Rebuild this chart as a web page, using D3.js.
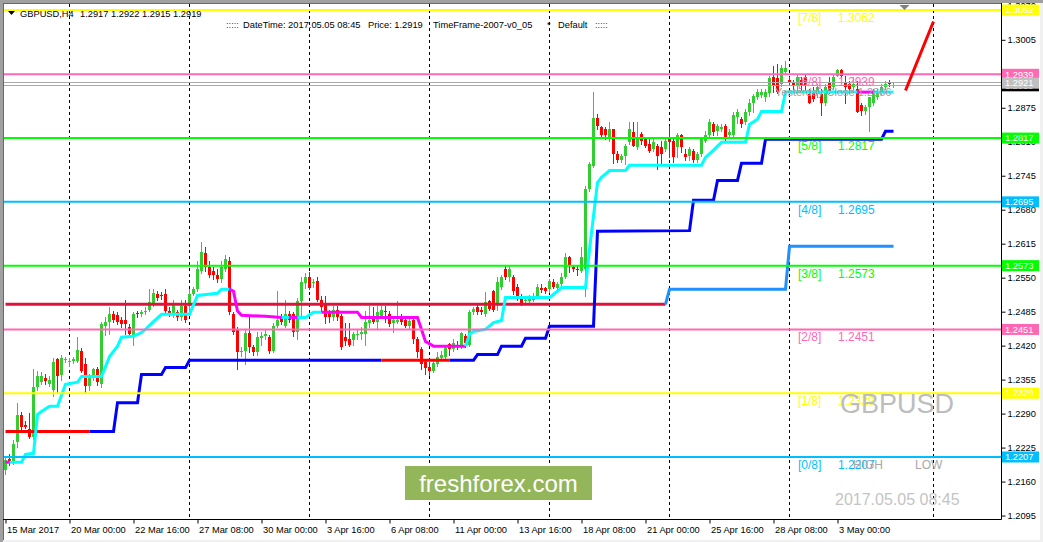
<!DOCTYPE html>
<html>
<head>
<meta charset="utf-8">
<script src="https://cdn.jsdelivr.net/npm/d3@7/dist/d3.min.js"></script>
<style>
html,body{margin:0;padding:0;background:#fff;overflow:hidden;}
svg{display:block;}
text{font-family:"Liberation Sans",Arial,Helvetica,sans-serif;}
</style>
</head>
<body>
<svg id="chart" width="1043" height="542"></svg>
<script>
// ---------------- DATA ----------------
const symbol = "GBPUSD";
const timeframe = "H4";

const opens = [
1.2183,1.2204,1.2198,1.2235,1.2288,1.2269,1.2260,1.2246,1.2340,1.2350,
1.2359,1.2346,1.2336,1.2394,1.2363,1.2392,1.2390,1.2390,1.2390,1.2409,
1.2384,1.2342,1.2359,1.2375,1.2346,1.2457,1.2466,1.2480,1.2478,1.2470,
1.2470,1.2455,1.2440,1.2482,1.2480,1.2484,1.2489,1.2499,1.2518,1.2516,
1.2518,1.2486,1.2480,1.2484,1.2474,1.2495,1.2495,1.2518,1.2528,1.2562,
1.2598,1.2570,1.2562,1.2556,1.2547,1.2566,1.2581,1.2480,1.2451,1.2409,
1.2409,1.2445,1.2417,1.2407,1.2434,1.2438,1.2436,1.2409,1.2457,1.2474,
1.2457,1.2480,1.2480,1.2447,1.2505,1.2539,1.2551,1.2539,1.2543,1.2508,
1.2497,1.2482,1.2474,1.2489,1.2476,1.2436,1.2432,1.2430,1.2442,1.2442,
1.2442,1.2464,1.2476,1.2466,1.2476,1.2487,1.2480,1.2463,1.2466,1.2476,
1.2470,1.2457,1.2470,1.2432,1.2413,1.2388,1.2380,1.2371,1.2384,1.2397,
1.2399,1.2424,1.2413,1.2422,1.2419,1.2438,1.2422,1.2484,1.2493,1.2489,
1.2480,1.2505,1.2524,1.2499,1.2533,1.2566,1.2551,1.2551,1.2533,1.2514,
1.2505,1.2505,1.2508,1.2514,1.2531,1.2530,1.2528,1.2541,1.2530,1.2537,
1.2552,1.2589,1.2570,1.2566,1.2562,1.2566,1.2719,1.2763,1.2855,1.2838,
1.2834,1.2815,1.2834,1.2786,1.2776,1.2782,1.2809,1.2828,1.2799,1.2824,
1.2815,1.2805,1.2796,1.2801,1.2799,1.2796,1.2818,1.2811,1.2799,1.2822,
1.2786,1.2782,1.2792,1.2776,1.2786,1.2811,1.2822,1.2843,1.2830,1.2834,
1.2840,1.2822,1.2822,1.2858,1.2853,1.2847,1.2866,1.2885,1.2895,1.2899,
1.2895,1.2904,1.2933,1.2931,1.2920,1.2943,1.2929,1.2925,1.2916,1.2929,
1.2933,1.2901,1.2906,1.2901,1.2901,1.2885,1.2925,1.2914,1.2935,1.2947,
1.2924,1.2920,1.2914,1.2910,1.2881,1.2868,1.2876,1.2885,1.2895,1.2906,
1.2914,1.2925,1.2917];

const highs = [
1.2208,1.2212,1.2239,1.2311,1.2294,1.2275,1.2292,1.2375,1.2371,1.2369,
1.2365,1.2361,1.2397,1.2397,1.2403,1.2399,1.2397,1.2399,1.2436,1.2415,
1.2397,1.2365,1.2378,1.2380,1.2466,1.2474,1.2493,1.2486,1.2484,1.2474,
1.2508,1.2461,1.2484,1.2487,1.2489,1.2493,1.2528,1.2528,1.2524,1.2522,
1.2528,1.2493,1.2508,1.2489,1.2508,1.2508,1.2528,1.2533,1.2581,1.2619,
1.2608,1.2581,1.2570,1.2566,1.2581,1.2593,1.2589,1.2484,1.2455,1.2417,
1.2451,1.2474,1.2422,1.2447,1.2447,1.2451,1.2440,1.2464,1.2524,1.2480,
1.2508,1.2486,1.2484,1.2512,1.2551,1.2558,1.2560,1.2547,1.2551,1.2514,
1.2514,1.2489,1.2495,1.2495,1.2480,1.2464,1.2464,1.2447,1.2451,1.2455,
1.2486,1.2495,1.2493,1.2495,1.2495,1.2495,1.2486,1.2474,1.2505,1.2480,
1.2474,1.2474,1.2476,1.2436,1.2417,1.2392,1.2388,1.2394,1.2407,1.2409,
1.2422,1.2426,1.2432,1.2428,1.2447,1.2442,1.2489,1.2493,1.2497,1.2493,
1.2522,1.2508,1.2526,1.2552,1.2556,1.2572,1.2572,1.2556,1.2537,1.2518,
1.2512,1.2516,1.2520,1.2537,1.2537,1.2533,1.2547,1.2547,1.2541,1.2558,
1.2598,1.2591,1.2574,1.2572,1.2608,1.2725,1.2772,1.2906,1.2863,1.2841,
1.2838,1.2847,1.2834,1.2792,1.2786,1.2805,1.2847,1.2847,1.2847,1.2828,
1.2818,1.2815,1.2815,1.2805,1.2811,1.2818,1.2841,1.2815,1.2826,1.2824,
1.2796,1.2799,1.2796,1.2790,1.2818,1.2830,1.2853,1.2847,1.2843,1.2843,
1.2843,1.2834,1.2866,1.2872,1.2857,1.2872,1.2891,1.2901,1.2910,1.2910,
1.2910,1.2935,1.2954,1.2958,1.2956,1.2964,1.2933,1.2929,1.2937,1.2933,
1.2937,1.2910,1.2914,1.2920,1.2910,1.2920,1.2933,1.2937,1.2950,1.2949,
1.2935,1.2926,1.2933,1.2926,1.2885,1.2880,1.2895,1.2910,1.2910,1.2920,
1.2926,1.2929,1.2922];

const lows = [
1.2174,1.2191,1.2193,1.2227,1.2260,1.2262,1.2243,1.2241,1.2336,1.2346,
1.2346,1.2342,1.2323,1.2332,1.2355,1.2388,1.2382,1.2386,1.2388,1.2369,
1.2332,1.2336,1.2355,1.2344,1.2340,1.2440,1.2442,1.2466,1.2461,1.2455,
1.2442,1.2436,1.2422,1.2474,1.2476,1.2480,1.2486,1.2495,1.2508,1.2510,
1.2484,1.2476,1.2474,1.2470,1.2470,1.2466,1.2489,1.2516,1.2524,1.2558,
1.2562,1.2552,1.2547,1.2541,1.2541,1.2562,1.2480,1.2443,1.2375,1.2401,
1.2384,1.2407,1.2403,1.2403,1.2422,1.2432,1.2405,1.2407,1.2455,1.2461,
1.2455,1.2466,1.2438,1.2432,1.2474,1.2531,1.2528,1.2533,1.2505,1.2486,
1.2464,1.2466,1.2470,1.2470,1.2413,1.2422,1.2419,1.2422,1.2432,1.2432,
1.2422,1.2455,1.2464,1.2451,1.2474,1.2466,1.2457,1.2447,1.2464,1.2461,
1.2455,1.2451,1.2426,1.2399,1.2375,1.2365,1.2363,1.2369,1.2382,1.2394,
1.2397,1.2403,1.2409,1.2413,1.2415,1.2417,1.2419,1.2480,1.2480,1.2480,
1.2476,1.2489,1.2486,1.2489,1.2528,1.2547,1.2543,1.2518,1.2508,1.2497,
1.2499,1.2501,1.2505,1.2512,1.2522,1.2520,1.2522,1.2531,1.2528,1.2531,
1.2549,1.2560,1.2562,1.2556,1.2560,1.2514,1.2715,1.2761,1.2834,1.2818,
1.2816,1.2811,1.2770,1.2772,1.2772,1.2767,1.2805,1.2801,1.2796,1.2805,
1.2799,1.2790,1.2792,1.2757,1.2770,1.2792,1.2780,1.2772,1.2780,1.2790,
1.2776,1.2776,1.2772,1.2772,1.2782,1.2809,1.2818,1.2822,1.2822,1.2830,
1.2811,1.2818,1.2818,1.2845,1.2839,1.2843,1.2862,1.2866,1.2891,1.2895,
1.2887,1.2897,1.2906,1.2904,1.2916,1.2939,1.2920,1.2910,1.2908,1.2908,
1.2908,1.2885,1.2887,1.2895,1.2862,1.2881,1.2904,1.2910,1.2935,1.2933,
1.2885,1.2904,1.2906,1.2866,1.2862,1.2864,1.2830,1.2881,1.2891,1.2901,
1.2910,1.2916,1.2915];

const closes = [
1.2202,1.2198,1.2231,1.2288,1.2265,1.2265,1.2246,1.2340,1.2361,1.2361,
1.2352,1.2355,1.2388,1.2361,1.2396,1.2394,1.2391,1.2394,1.2411,1.2371,
1.2342,1.2359,1.2375,1.2350,1.2461,1.2466,1.2480,1.2470,1.2466,1.2461,
1.2461,1.2442,1.2480,1.2480,1.2484,1.2487,1.2503,1.2520,1.2512,1.2515,
1.2486,1.2480,1.2499,1.2474,1.2495,1.2470,1.2518,1.2528,1.2566,1.2600,
1.2570,1.2556,1.2556,1.2547,1.2570,1.2585,1.2484,1.2447,1.2407,1.2410,
1.2445,1.2417,1.2407,1.2436,1.2438,1.2442,1.2409,1.2457,1.2470,1.2466,
1.2480,1.2470,1.2447,1.2505,1.2541,1.2552,1.2531,1.2541,1.2508,1.2493,
1.2474,1.2474,1.2489,1.2474,1.2417,1.2428,1.2422,1.2442,1.2443,1.2447,
1.2466,1.2470,1.2466,1.2484,1.2489,1.2486,1.2461,1.2470,1.2470,1.2466,
1.2457,1.2468,1.2432,1.2407,1.2384,1.2378,1.2371,1.2386,1.2399,1.2403,
1.2415,1.2413,1.2426,1.2419,1.2445,1.2426,1.2484,1.2491,1.2484,1.2484,
1.2503,1.2491,1.2489,1.2541,1.2552,1.2551,1.2566,1.2524,1.2512,1.2501,
1.2507,1.2510,1.2514,1.2533,1.2526,1.2524,1.2543,1.2533,1.2537,1.2552,
1.2589,1.2572,1.2566,1.2564,1.2589,1.2719,1.2767,1.2855,1.2840,1.2822,
1.2822,1.2834,1.2786,1.2776,1.2782,1.2801,1.2834,1.2801,1.2820,1.2811,
1.2801,1.2792,1.2809,1.2782,1.2786,1.2811,1.2809,1.2780,1.2822,1.2799,
1.2780,1.2796,1.2776,1.2786,1.2815,1.2822,1.2847,1.2828,1.2840,1.2838,
1.2815,1.2828,1.2862,1.2866,1.2843,1.2866,1.2885,1.2897,1.2906,1.2906,
1.2906,1.2931,1.2916,1.2906,1.2952,1.2952,1.2925,1.2916,1.2933,1.2916,
1.2916,1.2885,1.2891,1.2914,1.2885,1.2914,1.2906,1.2933,1.2947,1.2935,
1.2914,1.2910,1.2920,1.2866,1.2868,1.2876,1.2895,1.2906,1.2906,1.2914,
1.2920,1.2920,1.2919];

// time axis (bar index -> label)
const timeTickBars = [0,16,32,48,64,80,96,112,128,144,160,176,192,208];
const timeTickLabels = ["15 Mar 2017","20 Mar 00:00","22 Mar 16:00","27 Mar 08:00","30 Mar 00:00",
  "3 Apr 16:00","6 Apr 08:00","11 Apr 00:00","13 Apr 16:00","18 Apr 08:00","21 Apr 00:00",
  "25 Apr 16:00","28 Apr 08:00","3 May 00:00"];
const weekSeparatorBars = [16,46,76,106,136,166,196,232];
const lastBarIndexDomain = [0,232];

// price axis
const priceTicks = [1.2095,1.2160,1.2225,1.2290,1.2355,1.2420,1.2485,1.2550,1.2615,1.2680,
  1.2745,1.2810,1.2875,1.2940,1.3005,1.3070];

// Murrey math levels
const levelNames = ["[0/8]","[1/8]","[2/8]","[3/8]","[4/8]","[5/8]","[6/8]","[7/8]"];
const levelValues = [1.2207,1.2329,1.2451,1.2573,1.2695,1.2817,1.2939,1.3062];

// trend line A (cyan = up, magenta = down)
const lineAIdx = [0,1,4,5,7,8,9,11,13,15,18,19,24,26,28,29,32,34,35,37,39,46,48,53,54,56,57,58,59,65,
  69,71,73,75,77,79,88,89,103,104,105,107,115,116,117,120,122,124,125,136,138,139,145,146,148,149,151,
  155,156,174,175,177,179,185,186,188,189,194,195,213,217,222];
const lineAVal = [1.2197,1.2197,1.2197,1.2212,1.2214,1.2288,1.2294,1.2304,1.2304,1.2346,
  1.2350,1.2361,1.2361,1.2399,1.2419,1.2436,1.2438,1.2445,1.2451,1.2466,
  1.2480,1.2480,1.2516,1.2520,1.2528,1.2528,1.2524,1.2486,1.2478,1.2476,
  1.2474,1.2474,1.2474,1.2474,1.2484,1.2484,1.2484,1.2474,1.2474,1.2451,
  1.2428,1.2419,1.2419,1.2442,1.2447,1.2451,1.2464,1.2468,1.2512,1.2512,
  1.2524,1.2531,1.2531,1.2604,1.2732,1.2742,1.2755,1.2755,1.2765,1.2765,
  1.2780,1.2794,1.2809,1.2809,1.2843,1.2853,1.2868,1.2868,1.2905,1.2905,
  1.2905,1.2905];
const lineAUp = [0,0,1,
  1,1,1,1,1,1,1,1,1,1,1,1,1,1,1,1,1,1,1,1,1,1,1,
  0,0,0,0,0,
  1,0,1,1,1,
  0,0,0,0,0,0,0,
  1,1,1,1,1,1,1,1,1,1,1,1,1,1,1,1,1,1,1,1,1,1,1,1,1,1,1,
  0,1];

// stepped line B (blue = up, red = down)
const lineBIdx = [0,21,27,28,33,34,39,40,45,46,94,111,117,118,123,124,129,130,135,136,147,148,171,172,
  177,178,183,184,189,190,219,220,222];
const lineBVal = [1.2256,1.2256,1.2256,1.2311,1.2311,1.2365,1.2365,1.2378,1.2378,1.2392,
  1.2392,1.2392,1.2392,1.2403,1.2403,1.2419,1.2419,1.2434,1.2434,1.2457,
  1.2457,1.2639,1.2640,1.2698,1.2698,1.2736,1.2736,1.2769,1.2769,1.2815,
  1.2815,1.2830,1.2830];
const lineBUp = [0,0,1,1,1,1,1,1,1,1,1,0,1,1,1,1,1,1,1,1,1,1,1,1,1,1,1,1,1,1,1,1,1];

// level line C (crimson, then dodger blue)
const lineCIdx = [0,165,166,195,196,222];
const lineCVal = [1.2499,1.2499,1.2528,1.2528,1.2610,1.2610];
const lineCUp = [0,0,1,1,1,1];

// projection
const projIdx = [225,232];
const projVal = [1.2908,1.3040];

const grayLevel = 1.2922;
const grayLabel = "1.2921";
const yesterdayClose = 1.2886;
const headerDateTime = "2017.05.05 08:45";

// ---------------- STYLE ----------------
const levelColors = ["#00BFFF","#FFFF00","#FF69B4","#00FF00","#00BFFF","#00FF00","#FF69B4","#FFFF00"];
const bull = "#32CD32", bear = "#FF0000";
const FONT = '"Liberation Sans", Arial, Helvetica, sans-serif';

// ---------------- DRAW ----------------
const W = 1043, H = 542;
const L = 4, R = 1001, T = 4, B = 519;
const svg = d3.select("#chart");
const x = d3.scaleLinear().domain(lastBarIndexDomain).range([5.5, 933.5]);
const y = d3.scaleLinear().domain([levelValues[0], levelValues[7]]).range([457, 10]);
const crisp = v => Math.floor(v) + 0.5;

svg.append("rect").attr("width", W).attr("height", H).attr("fill", "#f0f0f0");
svg.append("rect").attr("x", 3).attr("y", 3).attr("width", 1037).attr("height", 537).attr("fill", "#fff");
svg.append("rect").attr("x", 0).attr("y", 0).attr("width", W).attr("height", 3).attr("fill", "#a0a0a0");
svg.append("rect").attr("x", 0).attr("y", 0).attr("width", 3).attr("height", H).attr("fill", "#a0a0a0");
svg.append("line").attr("x1", 3).attr("x2", R + 1).attr("y1", 3.5).attr("y2", 3.5).attr("stroke", "#696969");
svg.append("line").attr("x1", 3.5).attr("x2", 3.5).attr("y1", 3).attr("y2", 540).attr("stroke", "#696969");

svg.append("defs").append("clipPath").attr("id", "pc")
  .append("rect").attr("x", L).attr("y", T).attr("width", R - L).attr("height", B - T);
const g = svg.append("g").attr("clip-path", "url(#pc)");

// week separators
g.append("g").selectAll("line").data(weekSeparatorBars).join("line")
  .attr("x1", d => x(d)).attr("x2", d => x(d)).attr("y1", T).attr("y2", B)
  .attr("stroke", "#000").attr("stroke-width", 1).attr("stroke-dasharray", "3,3");

// candles
const bars = d3.range(closes.length).map(i => ({i, o: opens[i], h: highs[i], l: lows[i], c: closes[i]}));
const cg = g.append("g");
cg.selectAll("line").data(bars).join("line")
  .attr("x1", d => x(d.i)).attr("x2", d => x(d.i))
  .attr("y1", d => Math.round(y(d.h))).attr("y2", d => Math.round(y(d.l)) + 1)
  .attr("stroke", d => d.c >= d.o ? bull : bear).attr("stroke-width", 1);
cg.selectAll("rect").data(bars).join("rect")
  .attr("x", d => x(d.i) - 1.5).attr("width", 3)
  .attr("y", d => Math.round(y(Math.max(d.o, d.c))))
  .attr("height", d => Math.max(1, Math.round(y(Math.min(d.o, d.c))) - Math.round(y(Math.max(d.o, d.c)))))
  .attr("fill", d => d.c >= d.o ? bull : bear);

// trend lines
const lineGen = d3.line().x(d => x(d[0])).y(d => y(d[1]));
function drawTrend(idx, val, flag, cols, w) {
  const runs = []; let cur = null;
  for (let k = 1; k < idx.length; k++) {
    if (!cur || cur.f !== flag[k]) { cur = {f: flag[k], pts: [[idx[k - 1], val[k - 1]]]}; runs.push(cur); }
    cur.pts.push([idx[k], val[k]]);
  }
  g.append("g").selectAll("path").data(runs).join("path")
    .attr("d", d => lineGen(d.pts)).attr("fill", "none")
    .attr("stroke", d => cols[d.f]).attr("stroke-width", w).attr("stroke-linejoin", "miter");
}
drawTrend(lineCIdx, lineCVal, lineCUp, ["#DC143C", "#1E90FF"], 3);
drawTrend(lineBIdx, lineBVal, lineBUp, ["#FF0000", "#0000FF"], 3);
drawTrend(lineAIdx, lineAVal, lineAUp, ["#FF00FF", "#00FFFF"], 3);

// murrey level lines
g.append("g").selectAll("line").data(levelValues).join("line")
  .attr("x1", L).attr("x2", R).attr("y1", d => y(d)).attr("y2", d => y(d))
  .attr("stroke", (d, k) => levelColors[k]).attr("stroke-width", 2);

// gray / bid lines (1px, pixel aligned)
g.append("g").selectAll("line").data([grayLevel, closes[closes.length - 1]]).join("line")
  .attr("x1", L).attr("x2", R)
  .attr("y1", (d, k) => k === 0 ? crisp(y(d)) - 1 : crisp(y(d)) + 1)
  .attr("y2", (d, k) => k === 0 ? crisp(y(d)) - 1 : crisp(y(d)) + 1)
  .attr("stroke", "#A9A9A9").attr("stroke-width", 1);

// projection line
g.append("path").attr("d", lineGen(projIdx.map((d, k) => [d, projVal[k]])))
  .attr("fill", "none").attr("stroke", "#FF0000").attr("stroke-width", 3);

// level labels
const lt = g.append("g").attr("font-family", FONT).attr("font-size", 12);
lt.selectAll("text.n").data(levelValues).join("text").attr("class", "n")
  .attr("x", 798).attr("y", d => y(d) + 12).attr("fill", (d, k) => levelColors[k])
  .text((d, k) => levelNames[k]);
lt.selectAll("text.v").data(levelValues).join("text").attr("class", "v")
  .attr("x", 838).attr("y", d => y(d) + 12).attr("fill", (d, k) => levelColors[k])
  .text(d => d.toFixed(4));

// overlay texts
g.append("text").attr("x", 775).attr("y", 95.5).attr("font-family", FONT).attr("font-size", 11)
  .attr("fill", "#A0A0A0").text("Yesterday Close " + yesterdayClose.toFixed(4));
g.append("text").attr("x", 840).attr("y", 413).attr("font-family", FONT).attr("font-size", 27)
  .attr("fill", "#BDBDBD").text(symbol);
g.append("text").attr("x", 853).attr("y", 468.5).attr("font-family", FONT).attr("font-size", 12)
  .attr("fill", "#A8A8A8").text("HIGH");
g.append("text").attr("x", 915).attr("y", 468.5).attr("font-family", FONT).attr("font-size", 12)
  .attr("fill", "#A8A8A8").text("LOW");
g.append("text").attr("x", 835).attr("y", 505).attr("font-family", FONT).attr("font-size", 16)
  .attr("fill", "#C4C4C4").text(headerDateTime);

// logo
g.append("rect").attr("x", 405).attr("y", 466).attr("width", 187).attr("height", 34).attr("fill", "#93B65A");
g.append("text").attr("x", 498.5).attr("y", 491.5).attr("text-anchor", "middle").attr("font-family", FONT)
  .attr("font-size", 24).attr("fill", "#fff").text("freshforex.com");

// shift marker
svg.append("path").attr("d", `M${x(223.5)},5 L${x(226)},5 L${x(224.75)},10 Z`).attr("fill", "#808080");

// header
svg.append("path").attr("d", "M8,11 L15,11 L11.5,15 Z").attr("fill", "#000");
const hd = svg.append("g").attr("font-family", FONT).attr("font-size", 9.3).attr("fill", "#000");
const last = closes.length - 1;
hd.append("text").attr("x", 20).attr("y", 16.5).text(symbol + "," + timeframe);
hd.append("text").attr("x", 80).attr("y", 16.5)
  .text([opens[last], highs[last], lows[last], closes[last]].map(v => v.toFixed(4)).join(" "));
hd.append("text").attr("x", 226).attr("y", 28).attr("fill", "#8B008B").text(":::::");
hd.append("text").attr("x", 243).attr("y", 28).text("DateTime: " + headerDateTime);
hd.append("text").attr("x", 368).attr("y", 28).text("Price: " + closes[last].toFixed(4));
hd.append("text").attr("x", 433).attr("y", 28).text("TimeFrame-2007-v0_05");
hd.append("text").attr("x", 547).attr("y", 28).text("*");
hd.append("text").attr("x", 558).attr("y", 28).text("Default");
hd.append("text").attr("x", 595).attr("y", 28).attr("fill", "#8B008B").text(":::::");

// axes
const ya = svg.append("g").attr("transform", `translate(${R + 0.5},0)`)
  .call(d3.axisRight(y).tickValues(priceTicks).tickSize(4).tickPadding(2).tickFormat(d => d.toFixed(4)));
ya.select(".domain").remove();
ya.attr("font-family", FONT).attr("font-size", 9.3);
ya.selectAll("line").attr("stroke", "#000");
ya.selectAll("text").attr("fill", "#000");

const xa = svg.append("g").attr("transform", `translate(0,${B + 0.5})`)
  .call(d3.axisBottom(x).tickValues(timeTickBars).tickSize(4).tickFormat((d, k) => timeTickLabels[k]));
xa.select(".domain").remove();
xa.attr("font-family", FONT).attr("font-size", 9.3);
xa.selectAll("line").attr("stroke", "#000");
xa.selectAll("text").attr("fill", "#000").attr("text-anchor", "start").attr("x", 1).attr("y", 7).attr("dy", "0.71em");

svg.append("line").attr("x1", R + 0.5).attr("x2", R + 0.5).attr("y1", 3).attr("y2", B + 0.5).attr("stroke", "#000");
svg.append("line").attr("x1", 3).attr("x2", R + 0.5).attr("y1", B + 0.5).attr("y2", B + 0.5).attr("stroke", "#000");

// right-axis price labels
const rl = svg.append("g").attr("font-family", FONT).attr("font-size", 9.3);
function priceLabel(v, txt, bg) {
  rl.append("rect").attr("x", R + 1).attr("y", y(v) - 5.5).attr("width", 37).attr("height", 11).attr("fill", bg);
  rl.append("text").attr("x", R + 4).attr("y", y(v)).attr("dy", "0.35em").attr("fill", "#fff").text(txt);
}
levelValues.forEach((v, k) => priceLabel(v, v.toFixed(4), levelColors[k]));
priceLabel(closes[last] - 0.0002, closes[last].toFixed(4), "#000");
priceLabel(grayLevel, grayLabel, "#C0C0C0");
</script>
</body>
</html>
